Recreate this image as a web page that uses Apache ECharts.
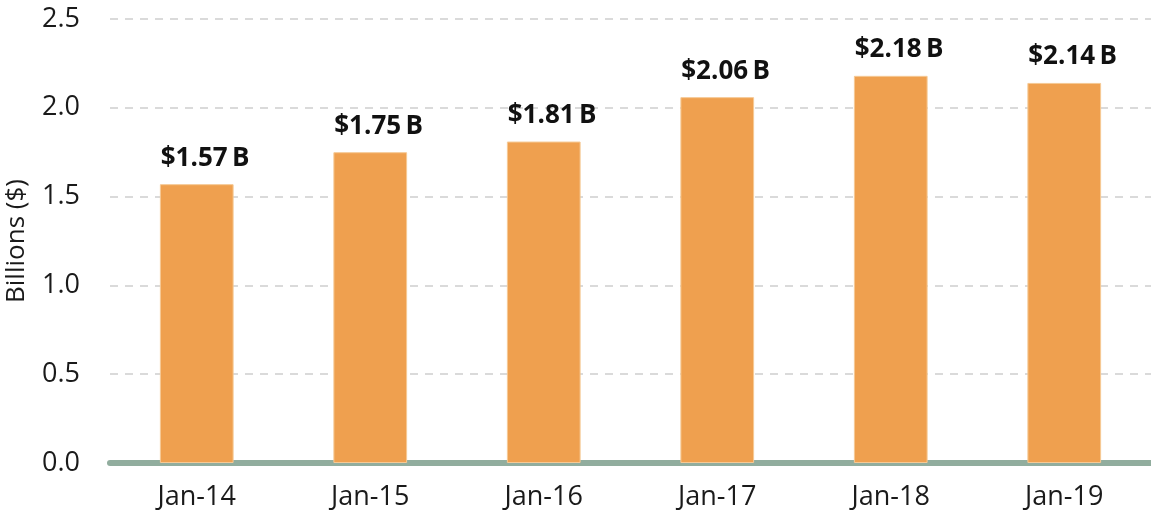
<!DOCTYPE html>
<html>
<head>
<meta charset="utf-8">
<script src="https://cdn.jsdelivr.net/npm/echarts@6/dist/echarts.min.js"></script>
<style>
  html, body { margin: 0; padding: 0; background: #fff; }
  #chart { width: 1151px; height: 518px; }
</style>
</head>
<body>
<div id="chart"></div>
<script>
const categories = ['Jan-14', 'Jan-15', 'Jan-16', 'Jan-17', 'Jan-18', 'Jan-19'];
const values = [1.57, 1.75, 1.81, 2.06, 2.18, 2.14];
const yTicks = [0, 0.5, 1.0, 1.5, 2.0, 2.5];

const chart = echarts.init(document.getElementById('chart'));

chart.setOption({
  animation: false,
  textStyle: { fontFamily: 'Open Sans' },
  grid: { left: 110, right: 0, top: 19, bottom: 55, outerBoundsMode: 'none' },
  xAxis: {
    type: 'category',
    data: categories,
    axisTick: { show: false },
    axisLine: { lineStyle: { color: '#91ad9e', width: 6 } },
    axisLabel: { color: '#1a1a1a', fontSize: 27, margin: 21, fontFamily: 'Open Sans' }
  },
  yAxis: {
    type: 'value',
    min: yTicks[0],
    max: yTicks[yTicks.length - 1],
    interval: 0.5,
    name: 'Billions ($)',
    nameLocation: 'middle',
    nameGap: 80,
    nameTextStyle: { color: '#1a1a1a', fontSize: 26, fontFamily: 'Open Sans' },
    axisLine: { show: false },
    axisTick: { show: false },
    axisLabel: {
      color: '#1a1a1a',
      fontSize: 27,
      margin: 30,
      fontFamily: 'Open Sans',
      formatter: v => v.toFixed(1)
    },
    splitLine: { lineStyle: { color: '#dadada', width: 2, type: [8, 7] } }
  },
  series: [{
    type: 'bar',
    data: values,
    barWidth: '42.5%',
    itemStyle: { color: '#efa04f', borderColor: '#f6c995', borderWidth: 1 },
    label: {
      show: true,
      position: 'top',
      align: 'left',
      offset: [-36, 0],
      distance: 13,
      color: '#111',
      fontSize: 26,
      fontWeight: 'bold',
      fontFamily: 'Open Sans',
      formatter: p => '$' + p.value.toFixed(2) + '\u2009B'
    }
  }]
});
</script>
</body>
</html>
